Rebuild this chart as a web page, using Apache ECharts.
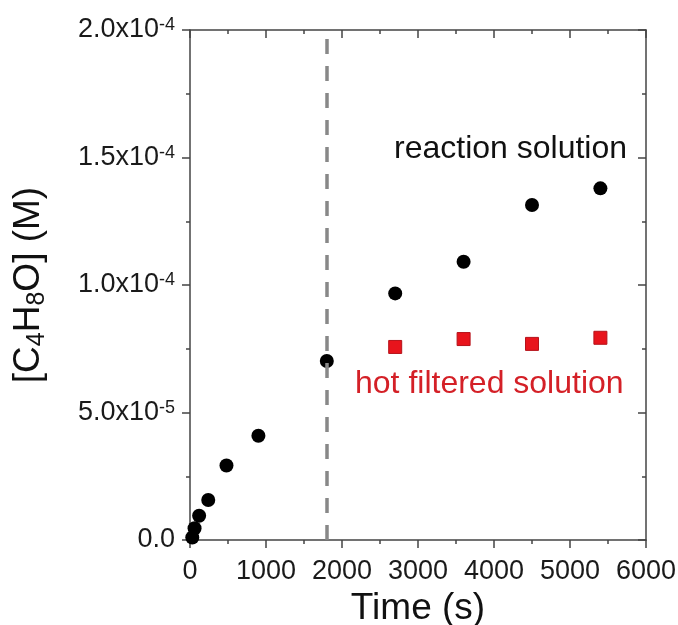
<!DOCTYPE html>
<html>
<head>
    <meta charset="utf-8">
    <title>C4H8O vs time</title>
    <script src="https://cdn.jsdelivr.net/npm/echarts@6/dist/echarts.min.js"></script>
    <style>
        html, body { margin: 0; padding: 0; background: #fff; }
        #main { width: 678px; height: 625px; }
    </style>
</head>
<body>
<div id="main"></div>
<script>
    // ---- data
    var reactionTime = [30, 60, 120, 240, 480, 900, 1800, 2700, 3600, 4500, 5400];
    var reactionConc = [1.0e-6, 4.6e-6, 9.5e-6, 15.7e-6, 29.2e-6, 40.9e-6, 70.2e-6, 96.7e-6, 109.1e-6, 131.4e-6, 137.9e-6];
    var filteredTime = [2700, 3600, 4500, 5400];
    var filteredConc = [75.7e-6, 78.8e-6, 76.9e-6, 79.3e-6];
    var filterTime = 1800;

    var FONT = 'Liberation Sans, Arial, sans-serif';
    var AXIS_COLOR = '#444';

    function pairs(xs, ys) {
        var out = [];
        for (var i = 0; i < xs.length; i++) out.push([xs[i], ys[i]]);
        return out;
    }

    // 2.0x10^-4 style labels
    function sciLabel(v) {
        if (v === 0) return '{n|0.0}';
        var e = Math.floor(Math.log10(v) + 1e-9);
        var m = (v / Math.pow(10, e)).toFixed(1);
        return '{n|' + m + 'x10}{s|' + e + '}';
    }

    var chart = echarts.init(document.getElementById('main'));

    var option = {
        animation: false,
        backgroundColor: '#fff',
        grid: { left: 190, right: 32, top: 30, bottom: 85, outerBoundsMode: 'none' },
        xAxis: [
            {
                type: 'value', min: 0, max: 6000, interval: 1000,
                name: 'Time (s)', nameLocation: 'middle', nameGap: 48,
                nameTextStyle: { fontFamily: FONT, fontSize: 37, color: '#111' },
                axisLine: { onZero: false, lineStyle: { color: AXIS_COLOR, width: 1.5 } },
                axisTick: { length: 8, lineStyle: { color: AXIS_COLOR, width: 1.5 } },
                minorTick: { show: true, splitNumber: 2, length: 4, lineStyle: { color: AXIS_COLOR, width: 1.5 } },
                axisLabel: {
                    fontFamily: FONT, fontSize: 27, color: '#1a1a1a', margin: 18,
                    formatter: function (v) { return String(v); }
                },
                splitLine: { show: false }
            },
            {
                type: 'value', position: 'top', min: 0, max: 6000, interval: 1000,
                axisLine: { show: true, onZero: false, lineStyle: { color: AXIS_COLOR, width: 1.5 } },
                axisTick: { inside: true, length: 8, lineStyle: { color: AXIS_COLOR, width: 1.5 } },
                minorTick: { show: true, splitNumber: 2, length: 4, lineStyle: { color: AXIS_COLOR, width: 1.5 } },
                axisLabel: { show: false },
                splitLine: { show: false }
            }
        ],
        yAxis: [
            {
                type: 'value', min: 0, max: 2e-4, interval: 5e-5,
                name: '{n|[C}{s|4}{n|H}{s|8}{n|O] (M)}',
                nameLocation: 'middle', nameRotate: 90, nameGap: 140,
                nameTextStyle: {
                    fontFamily: FONT, color: '#111',
                    rich: {
                        n: { fontFamily: FONT, fontSize: 37, color: '#111' },
                        s: { fontFamily: FONT, fontSize: 25, color: '#111', verticalAlign: 'bottom', padding: [18, 0, 0, 0] }
                    }
                },
                axisLine: { onZero: false, lineStyle: { color: AXIS_COLOR, width: 1.5 } },
                axisTick: { length: 8, lineStyle: { color: AXIS_COLOR, width: 1.5 } },
                minorTick: { show: true, splitNumber: 2, length: 4, lineStyle: { color: AXIS_COLOR, width: 1.5 } },
                axisLabel: {
                    margin: 15,
                    formatter: sciLabel,
                    rich: {
                        n: { fontFamily: FONT, fontSize: 27, color: '#1a1a1a' },
                        s: { fontFamily: FONT, fontSize: 18, color: '#1a1a1a', verticalAlign: 'top', padding: [0, 0, 6, 0] }
                    }
                },
                splitLine: { show: false }
            },
            {
                type: 'value', position: 'right', min: 0, max: 2e-4, interval: 5e-5,
                axisLine: { show: true, onZero: false, lineStyle: { color: AXIS_COLOR, width: 1.5 } },
                axisTick: { inside: true, length: 8, lineStyle: { color: AXIS_COLOR, width: 1.5 } },
                minorTick: { show: true, splitNumber: 2, length: 4, lineStyle: { color: AXIS_COLOR, width: 1.5 } },
                axisLabel: { show: false },
                splitLine: { show: false }
            }
        ],
        series: [
            {
                name: 'reaction solution',
                type: 'scatter',
                symbol: 'circle',
                symbolSize: 14,
                itemStyle: { color: '#000', opacity: 1 },
                data: pairs(reactionTime, reactionConc),
                z: 3,
                markLine: {
                    silent: true,
                    symbol: 'none',
                    label: { show: false },
                    lineStyle: { color: '#888', width: 3.5, type: [15, 12] },
                    data: [{ xAxis: filterTime }]
                }
            },
            {
                name: 'hot filtered solution',
                type: 'scatter',
                symbol: 'rect',
                symbolSize: 13,
                itemStyle: { color: '#e8141c', borderColor: '#b5121a', borderWidth: 1, opacity: 1 },
                data: pairs(filteredTime, filteredConc),
                z: 3
            }
        ],
        graphic: [
            {
                type: 'text', left: 394, top: 133,
                style: { text: 'reaction solution', font: '32px ' + FONT, fill: '#111' }
            },
            {
                type: 'text', left: 355, top: 368,
                style: { text: 'hot filtered solution', font: '32px ' + FONT, fill: '#d42027' }
            }
        ]
    };

    chart.setOption(option);
</script>
</body>
</html>
